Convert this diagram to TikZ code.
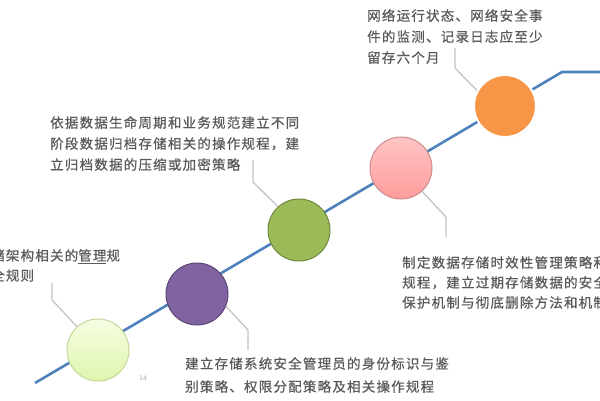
\documentclass[tikz,border=0pt]{standalone}
\usepackage{fontspec}
\newfontfamily\cjk[LetterSpace=9,FakeBold=0.6]{Noto Sans CJK SC}
\usetikzlibrary{shadows}
\definecolor{txt}{HTML}{5A5A5A}
\definecolor{lead}{HTML}{C4C4C4}
\definecolor{track}{HTML}{4F81BD}
\definecolor{limetop}{HTML}{F6FDE4}
\definecolor{limebot}{HTML}{DEF5AC}
\definecolor{limeline}{HTML}{C4D898}
\definecolor{violet}{HTML}{8064A2}
\definecolor{violetline}{HTML}{5C4676}
\definecolor{olive}{HTML}{9BBB59}
\definecolor{oliveline}{HTML}{71893F}
\definecolor{rosetop}{HTML}{FFC4C4}
\definecolor{rosebot}{HTML}{FF9C9C}
\definecolor{roseline}{HTML}{CE8C8C}
\definecolor{amber}{HTML}{F79646}

\begin{document}
\begin{tikzpicture}[x=1pt,y=-1pt,
  dot/.style={circle,minimum size=62pt,inner sep=0pt,line width=1pt},
  note/.style={anchor=north west,inner sep=0pt,align=left,text=txt,
    font=\cjk\fontsize{13.5}{21}\selectfont},
  leader/.style={draw=lead,line width=1.3pt}]

\fill[white](0,0)rectangle(600,400);
\useasboundingbox(0,0)rectangle(600,400);

% track
\coordinate(s0) at (35,383);
\coordinate(s1) at (562,72);
\coordinate(s2) at (600,72);
\draw[track,line width=2.6pt](s0)--(s1)--(s2);

% milestones
\node[dot,top color=limetop,bottom color=limebot,draw=limeline](c1) at (98,350){};
\node[dot,fill=violet,draw=violetline](c2) at (197,294){};
\node[dot,fill=olive,draw=oliveline](c3) at (299,230){};
\node[dot,top color=rosetop,bottom color=rosebot,draw=roseline](c4) at (401,168){};
\node[dot,fill=amber,draw=white,line width=2pt,
  drop shadow={opacity=0.25,shadow xshift=0.6pt,shadow yshift=-1pt}](c5) at (505,106){};

% leader bends
\coordinate(b1) at (52,300); \coordinate(e1) at (52,283);
\coordinate(b2) at (248,330); \coordinate(e2) at (248,350);
\coordinate(b3) at (253,182); \coordinate(e3) at (253,160);
\coordinate(b4) at (446,217); \coordinate(e4) at (446,237);
\coordinate(b5) at (455,68); \coordinate(e5) at (455,48);

\draw[leader](c1.132)--(b1)--(e1);
\draw[leader](c2.-23)--(b2)--(e2);
\draw[leader](c3.132)--(b3)--(e3);
\draw[leader](c4.-48)--(b4)--(e4);
\draw[leader](c5.151)--(b5)--(e5);

% notes
\node[note,font=\cjk\fontsize{13.5}{20}\selectfont](t1) at (-9,249)
  {储架构相关的\underline{管理}规\\全规则};
\node[note,font=\cjk\fontsize{13.5}{23}\selectfont](t2) at (185,357)
  {建立存储系统安全管理员的身份标识与鉴\\别策略、权限分配策略及相关操作规程};
\node[note](t3) at (50,116)
  {依据数据生命周期和业务规范建立不同\\阶段数据归档存储相关的操作规程，建\\立归档数据的压缩或加密策略};
\node[note,font=\cjk\fontsize{13.5}{20}\selectfont](t4) at (402,256)
  {制定数据存储时效性管理策略和\\规程，建立过期存储数据的安全\\保护机制与彻底删除方法和机制};
\node[note](t5) at (367,9)
  {网络运行状态、网络安全事\\件的监测、记录日志应至少\\留存六个月};

\node[text=gray!70,font=\sffamily\fontsize{7}{8}\selectfont,inner sep=0pt](pg) at (143,378){14};

\end{tikzpicture}
\end{document}
